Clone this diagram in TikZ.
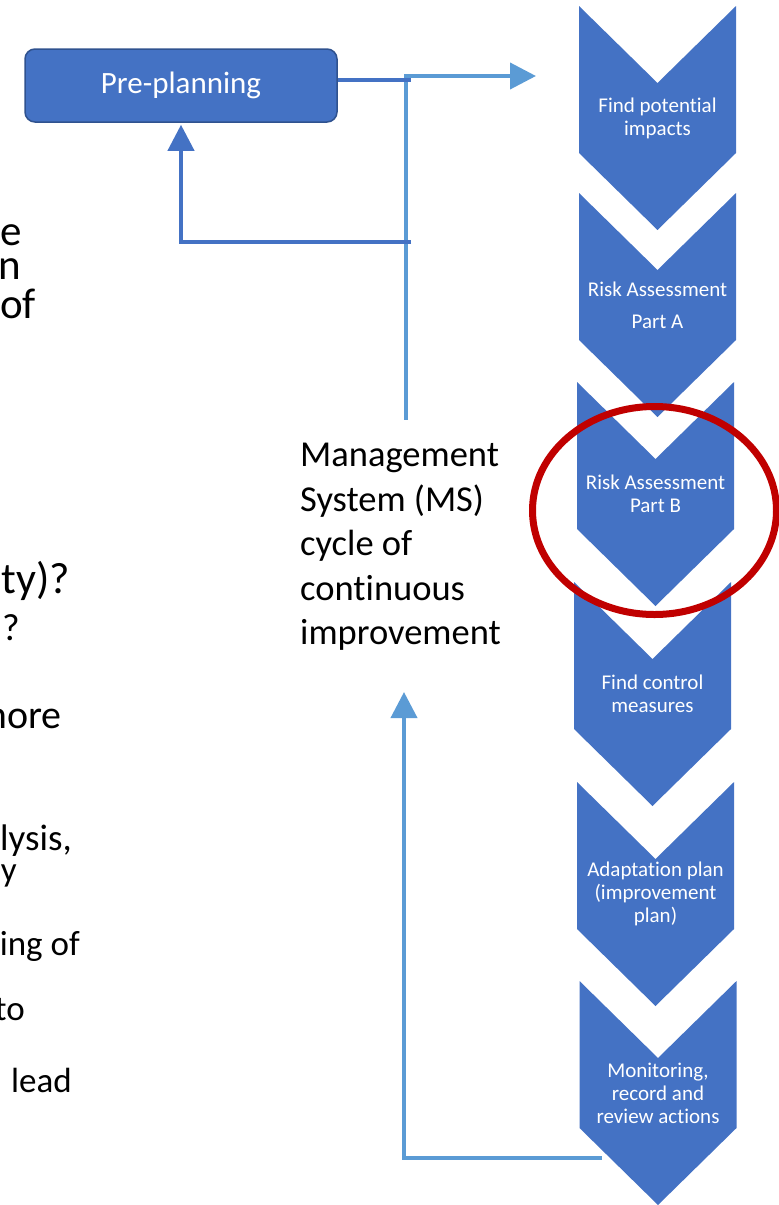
\documentclass[tikz,border=0pt]{standalone}
\usepackage{fontspec}
\setmainfont{Carlito}[Ligatures=NoCommon]
\usetikzlibrary{arrows.meta}

\definecolor{accent}{HTML}{4472C4}
\definecolor{accentdark}{HTML}{2F528F}
\definecolor{lightblue}{HTML}{5B9BD5}
\definecolor{ringred}{HTML}{C00000}

% one chevron of the process column: #1 centre x, #2 top y, #3 node name, #4 label
\newcommand\chevronstep[4]{%
  \fill[accent] (#1-78.5,#2) -- (#1,#2+77) -- (#1+78.5,#2) -- (#1+78.5,#2+147)
    -- (#1,#2+224) -- (#1-78.5,#2+147) -- cycle;
  \node[chevtext] (#3) at (#1,#2+112) {#4};
}

\begin{document}
\begin{tikzpicture}[x=1pt,y=-1pt,
  chevtext/.style={text=white, font=\fontsize{21}{23}\selectfont, align=center, inner sep=0pt},
  prebox/.style={draw=accentdark, line width=1.5pt, fill=accent, rounded corners=10pt,
    minimum width=312pt, minimum height=73pt, text=white, font=\fontsize{31}{37}\selectfont, inner sep=0pt},
  mstext/.style={font=\fontsize{36.5}{44.5}\selectfont, align=left, inner sep=0pt},
  darkline/.style={draw=accent, line width=4pt},
  lightline/.style={draw=lightblue, line width=4pt},
  bigtip/.style={-{Triangle[length=26pt,width=26pt]}},
  slidetext/.style={anchor=base east, inner sep=0pt, font=\fontsize{#1}{#1}\selectfont},
  ring/.style={draw=ringred, line width=7pt}
]
\useasboundingbox (0,0) rectangle (779,1205);
\clip (0,0) rectangle (779,1205);

% fragments of the slide text behind the diagram
\node[slidetext=43] (fa) at (22,245) {e};
\node[slidetext=43] (fb) at (21,279) {n};
\node[slidetext=43] (fc) at (36,318) {of};
\node[slidetext=44] (fd) at (70,593) {ity)?};
\node[slidetext=38] (fe) at (20,640) {?};
\node[slidetext=40] (ff) at (62,728) {more};
\node[slidetext=37] (fg) at (72,850) {lysis,};
\node[slidetext=35] (fh) at (17,881) {y};
\node[slidetext=35] (fi) at (80,955) {ing of};
\node[slidetext=35] (fj) at (25,1020) {to};
\node[slidetext=35] (fk) at (72,1092) {lead};

% process column
\chevronstep{657.5}{6}{c1}{Find potential\\impacts}
\chevronstep{657.5}{193}{c2}{Risk Assessment\\[9pt]Part A}
\chevronstep{655.5}{382}{c3}{Risk Assessment\\Part B}
\chevronstep{652.5}{582}{c4}{Find control\\measures}
\chevronstep{655.5}{782}{c5}{Adaptation plan\\(improvement\\plan)}
\chevronstep{658}{981}{c6}{Monitoring,\\record and\\review actions}

% pre-planning box
\node[prebox] (pre) at (181,85.5) {Pre-planning};

% management system label
\node[mstext, anchor=north west] (ms) at (300,443)
  {Management\\System (MS)\\cycle of\\continuous\\improvement};

% junction points of the feedback loop
\coordinate (outend) at (411,80);
\coordinate (lightstart) at (404,76);
\coordinate (toflow) at (536,76);
\coordinate (looptop) at (406,76);
\coordinate (loopbot) at (406,420);
\coordinate (backstart) at (411,242);
\coordinate (lowstart) at (602,1158);
\coordinate (lowtip) at (404,692);

% upper loop
\draw[lightline] (looptop) -- (loopbot);
\draw[lightline, bigtip] (lightstart) -- (toflow);
\draw[darkline] ([yshift=5.5pt]pre.east) -- (outend);
\draw[darkline, bigtip] (backstart) -| ([yshift=-2pt]pre.south);

% lower loop
\draw[lightline, bigtip] (lowstart) -| (lowtip);

% highlight ring round Part B
\draw[ring] (654.5,510.5) ellipse [x radius=122, y radius=104];
\end{tikzpicture}
\end{document}
